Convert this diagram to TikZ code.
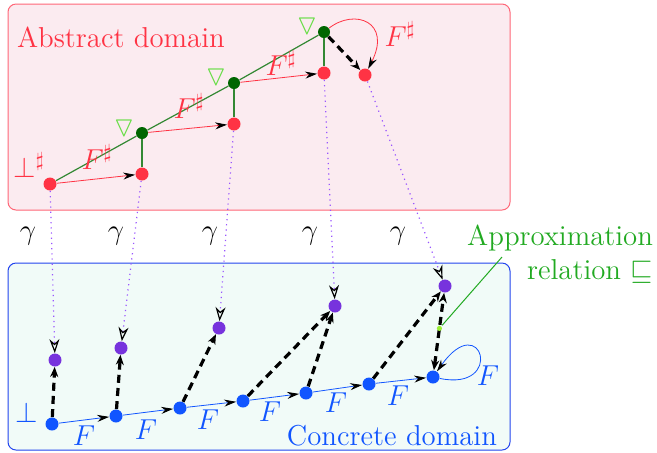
\documentclass[tikz,border=0pt]{standalone}
\usepackage{amssymb}
\usepackage{tikz}
\usetikzlibrary{arrows.meta,positioning,calc}
\definecolor{AbsFill}{HTML}{FBEBF0}
\definecolor{AbsLine}{HTML}{FF6677}
\definecolor{AbsRed}{HTML}{FF3344}
\definecolor{ConFill}{HTML}{F1FBF8}
\definecolor{ConLine}{HTML}{2244EE}
\definecolor{ConBlue}{HTML}{1155FF}
\definecolor{GamPurple}{HTML}{7733DD}
\definecolor{GamDots}{HTML}{9955FF}
\definecolor{WidenDark}{HTML}{006600}
\definecolor{WidenLine}{HTML}{338833}
\definecolor{WidenLight}{HTML}{66DD44}
\definecolor{ApproxGreen}{HTML}{22AA22}
\definecolor{ApproxDot}{HTML}{99EE33}

\begin{document}
\begin{tikzpicture}[
  x=0.5pt, y=-0.5pt,
  every node/.style={font=\Large},
  dom/.style={draw, rounded corners=4pt, line width=0.5pt},
  absdot/.style={circle, fill=AbsRed, inner sep=0pt, minimum size=6.5pt},
  widendot/.style={circle, fill=WidenDark, inner sep=0pt, minimum size=6pt},
  gamdot/.style={circle, fill=GamPurple, inner sep=0pt, minimum size=6.5pt},
  condot/.style={circle, fill=ConBlue, inner sep=0pt, minimum size=6.5pt},
  absarrow/.style={AbsRed, -{Stealth[black,length=6pt,width=3.5pt]}},
  conarrow/.style={ConBlue, -{Stealth[black,length=6pt,width=3.5pt]}},
  widen/.style={WidenLine, line width=0.6pt},
  gamarrow/.style={GamDots, dotted, line width=0.6pt, -{Stealth[open,black,length=7pt,width=5pt]}},
  approx/.style={line width=1.6pt, dash pattern=on 4pt off 2.6pt, -{Stealth[length=5pt,width=4pt]}}
]
\useasboundingbox (0,0) rectangle (657,452);

% domains
\draw[dom, draw=AbsLine, fill=AbsFill] (8,4) rectangle (510,210);
\draw[dom, draw=ConLine, fill=ConFill] (8,263) rectangle (510,450);
\node[AbsRed, anchor=west] (absname) at (10,37) {Abstract domain};
\node[ConBlue, anchor=east] (conname) at (504,436) {Concrete domain};

% abstract iterates
\node[absdot] (a0) at (50,184) {};
\node[absdot] (a1) at (142,174) {};
\node[absdot] (a2) at (234,124) {};
\node[absdot] (a3) at (324,73) {};
\node[absdot] (a4) at (365,75) {};
\node[widendot] (g1) at (142,133) {};
\node[widendot] (g2) at (234,83) {};
\node[widendot] (g3) at (324,32) {};
\node[AbsRed] (abot) at (29,165) {$\bot^\sharp$};
\foreach \g/\x/\y in {1/124/129, 2/216/78, 3/307/27}
  \node[WidenLight, font=\Large] (nab\g) at (\x,\y) {$\triangledown$};

\draw[widen] (a0) -- (g1) -- (g2) -- (g3);
\draw[widen] (g1) -- (a1);
\draw[widen] (g2) -- (a2);
\draw[widen] (g3) -- (a3);
\draw[absarrow] (a0) -- (a1);
\draw[absarrow] (g1) -- (a2);
\draw[absarrow] (g2) -- (a3);
\draw[approx] (g3) -- (a4);
\draw[AbsRed, -{Stealth[black,length=6pt,width=3.5pt]}] (g3) .. controls (355,8) and (392,22) .. (a4);
\node[AbsRed] (f1) at (97,157) {$F^\sharp$};
\node[AbsRed] (f2) at (189,106) {$F^\sharp$};
\node[AbsRed] (f3) at (281,63) {$F^\sharp$};
\node[AbsRed] (f4) at (400,34) {$F^\sharp$};

% concrete iterates
\node[condot] (c0) at (52,424) {};
\node[condot] (c1) at (116,416) {};
\node[condot] (c2) at (180,408) {};
\node[condot] (c3) at (243,401) {};
\node[condot] (c4) at (306,393) {};
\node[condot] (c5) at (369,384) {};
\node[condot] (c6) at (433,377) {};
\node[ConBlue] (cbot) at (27,412) {$\bot$};
\foreach \i/\j in {0/1, 1/2, 2/3, 3/4, 4/5, 5/6}
  \draw[conarrow] (c\i) -- (c\j);
\draw[ConBlue, -{Stealth[black,length=6pt,width=3.5pt]}] (c6) .. controls (505,392) and (482,308) .. (c6);
\foreach \x/\y [count=\k] in {84/436, 146/430, 208/420, 270/412, 336/403, 398/396, 488/376}
  \node[ConBlue] (cf\k) at (\x,\y) {$F$};

% concretisation
\node[gamdot] (p0) at (55,360) {};
\node[gamdot] (p1) at (121,348) {};
\node[gamdot] (p2) at (219,328) {};
\node[gamdot] (p3) at (335,306) {};
\node[gamdot] (p4) at (445,286) {};
\foreach \i in {0,...,4}
  \draw[gamarrow] (a\i) -- (p\i);
\foreach \x [count=\k] in {28,116,210,310,398}
  \node (gam\k) at (\x,236) {$\gamma$};

% approximation
\draw[approx] (c0) -- (p0);
\draw[approx] (c1) -- (p1);
\draw[approx] (c2) -- (p2);
\draw[approx] (c3) -- (p3);
\draw[approx] (c4) -- (p3);
\draw[approx] (c5) -- (p4);
\draw[approx, {Stealth[length=5pt,width=4pt]}-{Stealth[length=5pt,width=4pt]}] (c6) -- node[pos=0.54, circle, fill=ApproxDot, inner sep=0pt, minimum size=2.6pt] (adot) {} (p4);
\node[ApproxGreen, align=right, anchor=east] (approxtxt) at (660,254) {Approximation\\[-1pt]relation $\sqsubseteq$};
\coordinate (approxtip) at (502,257);
\draw[ApproxGreen, line width=0.5pt] (approxtip) -- (adot);
\end{tikzpicture}
\end{document}
